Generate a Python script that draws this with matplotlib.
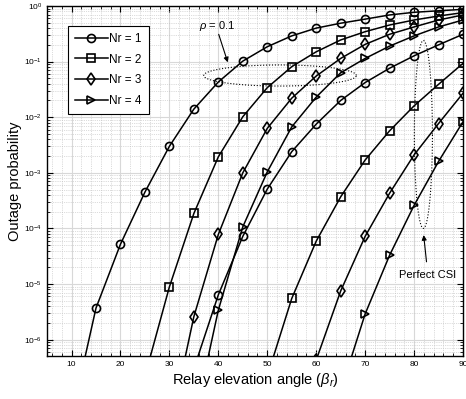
import numpy as np
import matplotlib
matplotlib.use('Agg')
import matplotlib.pyplot as plt
from matplotlib.ticker import MultipleLocator, LogLocator, NullFormatter

plt.rcParams['font.family'] = ['Liberation Sans', 'DejaVu Sans']
plt.rcParams['mathtext.fontset'] = 'custom'
plt.rcParams['mathtext.rm'] = 'Liberation Sans'
plt.rcParams['mathtext.it'] = 'Liberation Sans:italic'

# data (rho = 0.1 and perfect CSI)
x_nr1_rho = [10, 15, 20, 25, 30, 35, 40, 45, 50, 55, 60, 65, 70, 75, 80, 85, 90]
nr1_rho = [4e-8, 3.7e-6, 5.2e-5, 4.5e-4, 3.0e-3, 0.014, 0.043, 0.102, 0.185,
           0.29, 0.40, 0.49, 0.58, 0.69, 0.77, 0.82, 0.87]
x_nr2_rho = [25, 30, 35, 40, 45, 50, 55, 60, 65, 70, 75, 80, 85, 90]
nr2_rho = [2.2e-7, 8.9e-6, 1.86e-4, 1.94e-3, 0.0102, 0.034, 0.081, 0.15,
           0.245, 0.345, 0.455, 0.56, 0.66, 0.76]
x_nr3_rho = [30, 35, 40, 45, 50, 55, 60, 65, 70, 75, 80, 85, 90]
nr3_rho = [2.3e-8, 2.6e-6, 7.8e-5, 1.0e-3, 6.3e-3, 0.022, 0.055, 0.114,
           0.204, 0.31, 0.42, 0.56, 0.69]
x_nr4_rho = [35, 40, 45, 50, 55, 60, 65, 70, 75, 80, 85, 90]
nr4_rho = [3.2e-8, 3.4e-6, 1.07e-4, 1.04e-3, 6.7e-3, 0.023, 0.063, 0.114,
           0.19, 0.29, 0.42, 0.56]

x_nr1_csi = [35, 40, 45, 50, 55, 60, 65, 70, 75, 80, 85, 90]
nr1_csi = [3e-7, 6.4e-6, 7.2e-5, 5.1e-4, 2.4e-3, 7.5e-3, 0.020, 0.042,
           0.076, 0.127, 0.20, 0.31]
x_nr2_csi = [50, 55, 60, 65, 70, 75, 80, 85, 90]
nr2_csi = [2.2e-7, 5.5e-6, 5.9e-5, 3.7e-4, 1.7e-3, 5.7e-3, 0.016, 0.039, 0.093]
x_nr3_csi = [60, 65, 70, 75, 80, 85, 90]
nr3_csi = [4.3e-7, 7.5e-6, 7.2e-5, 4.3e-4, 2.1e-3, 7.7e-3, 0.027]
x_nr4_csi = [65, 70, 75, 80, 85, 90]
nr4_csi = [1.2e-7, 2.9e-6, 3.3e-5, 2.6e-4, 1.6e-3, 8.3e-3]

labels = ['Nr = 1', 'Nr = 2', 'Nr = 3', 'Nr = 4']
markers = ['o', 's', 'd', '>']

fig = plt.figure(figsize=(4.66, 3.99), dpi=100)
ax = fig.add_axes([0.101, 0.108, 0.8926, 0.877])

style = dict(color='black', lw=1.1, markerfacecolor='none',
             markeredgecolor='black', markeredgewidth=1.2)

rho_sets = [(x_nr1_rho, nr1_rho), (x_nr2_rho, nr2_rho), (x_nr3_rho, nr3_rho), (x_nr4_rho, nr4_rho)]
csi_sets = [(x_nr1_csi, nr1_csi), (x_nr2_csi, nr2_csi), (x_nr3_csi, nr3_csi), (x_nr4_csi, nr4_csi)]

for i in range(4):
    ms = 6.5 if markers[i] == 'd' else 5.8
    ax.semilogy(rho_sets[i][0], rho_sets[i][1], marker=markers[i], label=labels[i],
                markersize=ms, **style)
    ax.semilogy(csi_sets[i][0], csi_sets[i][1], marker=markers[i], markersize=ms, **style)

ax.set_xlim(5, 90)
ax.set_ylim(5.1e-7, 1)

# ellipses (drawn in log space)
t = np.linspace(0, 2 * np.pi, 200)
ax.plot(52.6 + 15.6 * np.cos(t), 10 ** (-1.25 + 0.19 * np.sin(t)),
        color='black', lw=0.8, ls=':')
ax.plot(81.9 + 1.85 * np.cos(t), 10 ** (-2.31 + 1.69 * np.sin(t)),
        color='black', lw=0.8, ls=':')

ax.annotate('', xy=(42.1, 0.087), xytext=(39.9, 0.345),
            arrowprops=dict(arrowstyle='-|>', color='black', lw=0.8, mutation_scale=7))
ax.text(36.0, 0.44, r'$\rho$ = 0.1', fontsize=8, va='center', ha='left')

ax.annotate('', xy=(81.9, 10 ** -4.07), xytext=(82.6, 10 ** -4.65),
            arrowprops=dict(arrowstyle='-|>', color='black', lw=0.8, mutation_scale=7))
ax.text(82.8, 10 ** -4.83, 'Perfect CSI', fontsize=8, va='center', ha='center')

ax.xaxis.set_major_locator(MultipleLocator(10))
ax.xaxis.set_minor_locator(MultipleLocator(2))
ax.yaxis.set_major_locator(LogLocator(base=10, numticks=20))
ax.yaxis.set_minor_locator(LogLocator(base=10, subs=np.arange(2, 10), numticks=20))
ax.yaxis.set_minor_formatter(NullFormatter())

ax.grid(which='major', color='#d8d8d8', lw=0.8, ls='-')
ax.grid(which='minor', color='#bbbbbb', lw=0.5, ls=':')
ax.set_axisbelow(True)

ax.tick_params(which='both', direction='in', top=True, right=True, labelsize=6)
ax.tick_params(which='major', length=4, width=0.8)
ax.tick_params(which='minor', length=2, width=0.6)
for s in ax.spines.values():
    s.set_linewidth(1.0)

ax.set_xlabel(r'Relay elevation angle ($\beta_r$)', fontsize=10.5, labelpad=2)
ax.set_ylabel('Outage probability', fontsize=10.5, labelpad=2)

leg = ax.legend(loc='upper left', bbox_to_anchor=(0.05, 0.944), fontsize=8.5,
                handlelength=2.8, fancybox=False, edgecolor='black',
                framealpha=1, borderpad=0.6, labelspacing=0.75, handletextpad=0.1,
                borderaxespad=0)
leg.get_frame().set_linewidth(0.8)

fig.savefig('out.png', dpi=100)
